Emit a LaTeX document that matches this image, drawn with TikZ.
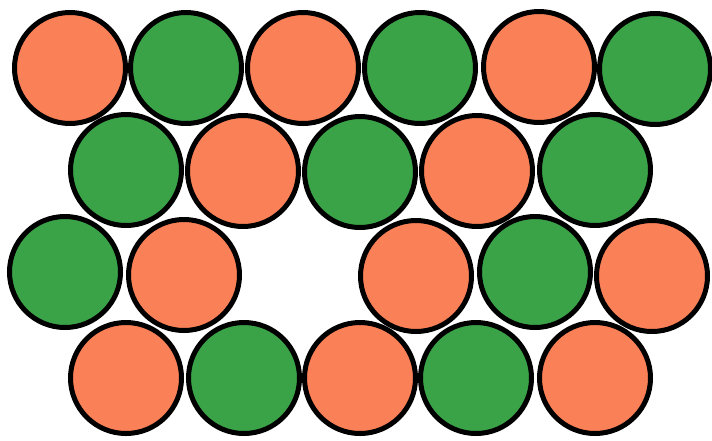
\documentclass[tikz,border=0pt]{standalone}
\definecolor{ballorange}{RGB}{250,128,88}
\definecolor{ballgreen}{RGB}{58,163,72}
\tikzset{
  ball/.style={circle,draw=black,line width=5pt,minimum size=111pt,inner sep=0pt},
  ob/.style={ball,fill=ballorange},
  gb/.style={ball,fill=ballgreen}
}
\begin{document}
\begin{tikzpicture}[x=1pt,y=-1pt]
\useasboundingbox (0,0) rectangle (712,440);
% row 1
\node[ob] (a1) at (70,68) {};
\node[gb] (a2) at (186,68) {};
\node[ob] (a3) at (303,68) {};
\node[gb] (a4) at (420,68) {};
\node[ob] (a5) at (539,67) {};
\node[gb] (a6) at (655,69) {};
% row 2
\node[gb] (b1) at (126,170) {};
\node[ob] (b2) at (243,171) {};
\node[gb] (b3) at (360,172) {};
\node[ob] (b4) at (477,171) {};
\node[gb] (b5) at (595,170) {};
% row 3
\node[gb] (c1) at (65,272) {};
\node[ob] (c2) at (184,275) {};
\node[ob] (c4) at (416,276) {};
\node[gb] (c5) at (535,272) {};
\node[ob] (c6) at (652,276) {};
% row 4
\node[ob] (d1) at (126,378) {};
\node[gb] (d2) at (244,378) {};
\node[ob] (d3) at (360,378) {};
\node[gb] (d4) at (476,378) {};
\node[ob] (d5) at (595,378) {};
\end{tikzpicture}
\end{document}
